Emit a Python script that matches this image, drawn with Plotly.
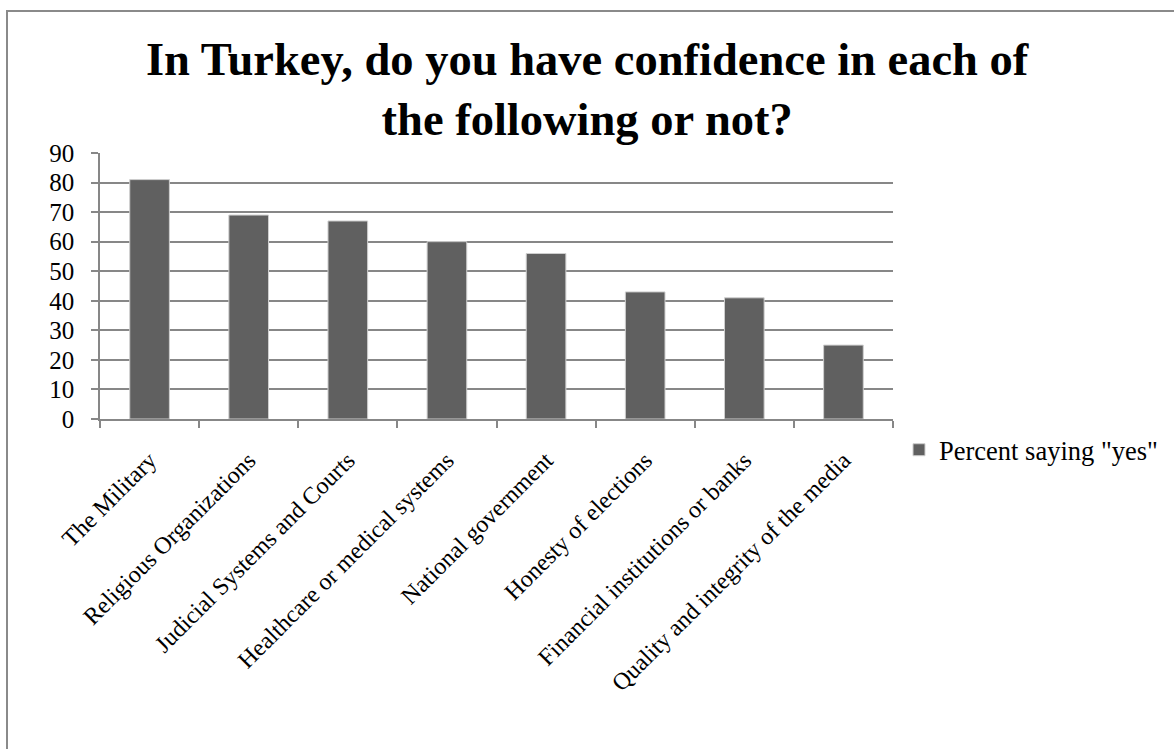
import plotly.graph_objects as go

categories = ["The Military", "Religious Organizations", "Judicial Systems and Courts",
              "Healthcare or medical systems", "National government", "Honesty of elections",
              "Financial institutions or banks", "Quality and integrity of the media"]
values = [81, 69, 67, 60, 56, 43, 41, 25]
series_name = 'Percent saying "yes"'
y_ticks = [0, 10, 20, 30, 40, 50, 60, 70, 80, 90]
title_text = "<b>In Turkey, do you have confidence in each of<br>the following or not?</b>"

W, H = 1174, 749
L, R, T, B = 100, 281, 153, 330
pw, ph = W - L - R, H - T - B

def px_x(x):
    return (x - L) / pw

def px_y(y):
    return (H - B - y) / ph

FONT = "Liberation Serif, Times New Roman, serif"
GRID = "#878787"

fig = go.Figure()
fig.add_trace(go.Bar(
    x=categories, y=values, name=series_name,
    marker=dict(color="#606060", line=dict(color="#cfcfcf", width=1)),
    width=0.4, showlegend=True,
))

fig.update_layout(
    width=W, height=H,
    margin=dict(l=L, r=R, t=T, b=B, autoexpand=False),
    paper_bgcolor="white", plot_bgcolor="white",
    font=dict(family=FONT, color="black"),
    showlegend=True,
    legend=dict(
        x=px_x(899), y=px_y(426), xanchor="left", yanchor="top",
        font=dict(family=FONT, size=26.5, color="black"),
        bgcolor="rgba(0,0,0,0)",
    ),
)

fig.add_annotation(
    text=title_text, xref="paper", yref="paper",
    x=px_x(587), y=px_y(32), xanchor="center", yanchor="top",
    showarrow=False, align="center",
    font=dict(family=FONT, size=46.5, color="black"),
)

fig.update_xaxes(
    type="category", tickson="boundaries", ticks="outside", ticklen=7,
    tickcolor=GRID, tickwidth=1.5, showline=True, linecolor=GRID, linewidth=1.5,
    showgrid=False, tickangle=-45, ticklabelstandoff=16,
    tickfont=dict(family=FONT, size=24, color="black"),
)
fig.update_yaxes(
    range=[0, 90], tickvals=y_ticks, ticks="outside", ticklen=7, tickcolor=GRID,
    tickwidth=1.5, showline=True, linecolor=GRID, linewidth=1.5,
    showgrid=True, gridcolor=GRID, gridwidth=1.5, zeroline=False,
    ticklabelstandoff=12,
    tickfont=dict(family=FONT, size=25, color="black"),
)

# outer chart border (extends beyond the right/bottom edges of the picture)
fig.add_shape(
    type="rect", xref="paper", yref="paper",
    x0=px_x(7), x1=px_x(W + 10), y0=px_y(H + 10), y1=px_y(11),
    line=dict(color="#8a8a8a", width=2), fillcolor="rgba(0,0,0,0)", layer="below",
)

fig.write_html("out.html", config={"displayModeBar": False},
               post_script="document.body.style.margin='0';")
